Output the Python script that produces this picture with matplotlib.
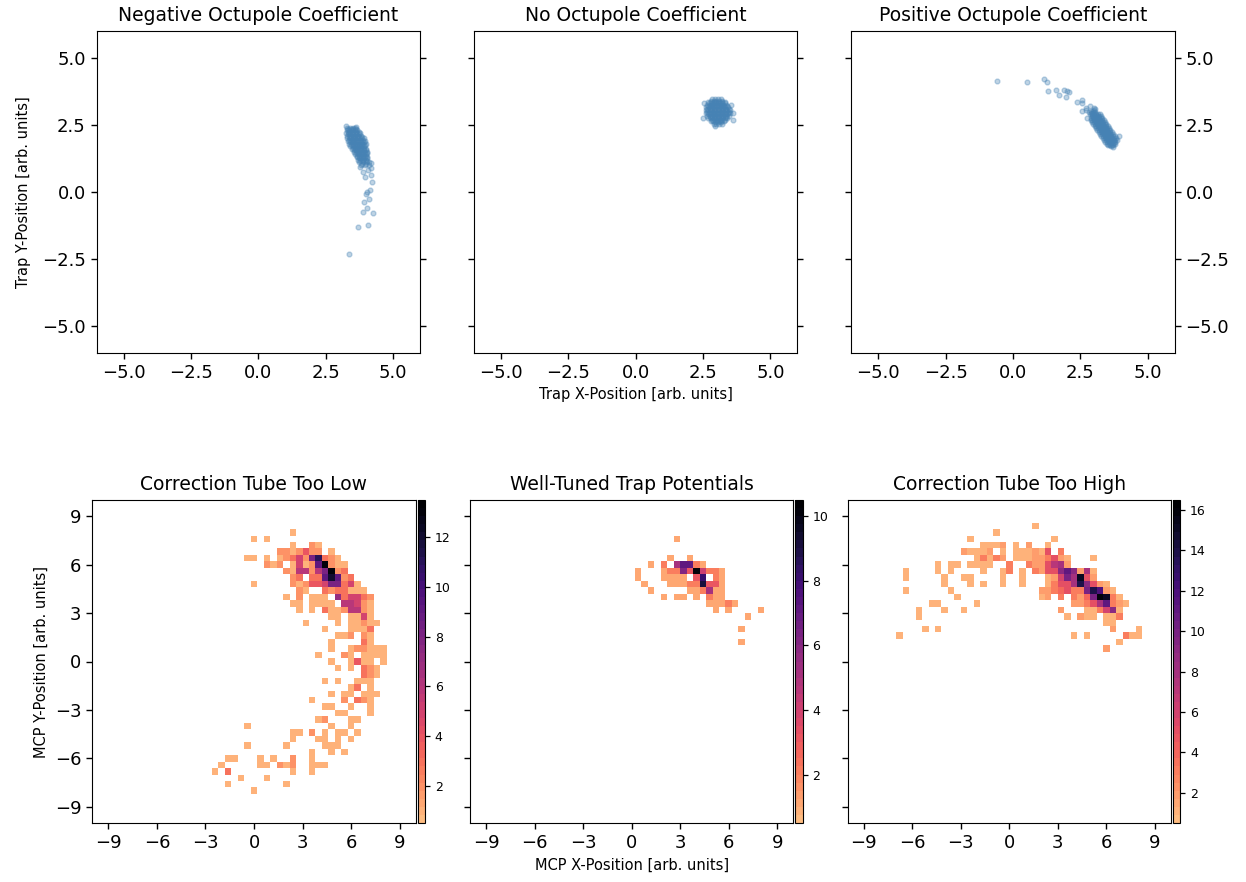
import numpy as np
import matplotlib
matplotlib.use("Agg")
import matplotlib.pyplot as plt
from matplotlib.colors import ListedColormap, Normalize

# ---- top row: trap positions (scatter) ----
neg_x = [3.30, 3.40, 3.50, 3.58,
         3.28, 3.38, 3.48, 3.58, 3.68,
         3.27, 3.37, 3.47, 3.57, 3.67, 3.78,
         3.30, 3.40, 3.50, 3.60, 3.70, 3.80,
         3.30, 3.40, 3.50, 3.60, 3.70, 3.82, 3.92,
         3.33, 3.43, 3.53, 3.63, 3.73, 3.85, 3.95,
         3.37, 3.47, 3.57, 3.67, 3.77, 3.88, 3.98,
         3.42, 3.52, 3.62, 3.72, 3.82, 3.92,
         3.48, 3.58, 3.68, 3.78, 3.88, 3.98,
         3.55, 3.65, 3.75, 3.85, 3.95, 4.05,
         3.60, 3.70, 3.80, 3.90, 4.00,
         3.65, 3.75, 3.85, 3.95, 4.05,
         3.70, 3.80, 3.90, 4.00,
         3.75, 3.88, 4.00, 4.10,
         3.80, 3.95, 4.10,
         3.33, 3.43, 3.53, 3.63,
         3.32, 3.42, 3.52, 3.62, 3.72,
         3.32, 3.42, 3.52, 3.62, 3.72,
         3.35, 3.45, 3.55, 3.65, 3.75, 3.86,
         3.36, 3.46, 3.56, 3.66, 3.78, 3.90,
         3.40, 3.50, 3.60, 3.70, 3.82, 3.93,
         3.45, 3.55, 3.65, 3.75, 3.85, 3.95,
         3.50, 3.60, 3.70, 3.80, 3.92,
         3.55, 3.62, 3.72, 3.82, 3.92, 4.00,
         3.62, 3.72, 3.82, 3.92, 4.02,
         3.68, 3.78, 3.88, 3.98,
         3.72, 3.82, 3.92, 4.02,
         3.78, 3.90, 4.02,
         3.85, 4.00,
         3.37, 3.71, 4.06, 3.88, 4.27, 4.05, 3.92, 4.12, 4.02, 4.15,
         3.99, 4.21, 3.94, 4.18, 4.08, 4.18, 4.17, 3.88, 3.78, 3.25, 3.62]
neg_y = [2.40, 2.40, 2.40, 2.40,
         2.30, 2.30, 2.30, 2.30, 2.30,
         2.20, 2.20, 2.20, 2.20, 2.20, 2.20,
         2.10, 2.10, 2.10, 2.10, 2.10, 2.10,
         2.00, 2.00, 2.00, 2.00, 2.00, 2.00, 2.00,
         1.90, 1.90, 1.90, 1.90, 1.90, 1.90, 1.90,
         1.80, 1.80, 1.80, 1.80, 1.80, 1.80, 1.80,
         1.70, 1.70, 1.70, 1.70, 1.70, 1.70,
         1.60, 1.60, 1.60, 1.60, 1.60, 1.60,
         1.50, 1.50, 1.50, 1.50, 1.50, 1.50,
         1.40, 1.40, 1.40, 1.40, 1.40,
         1.30, 1.30, 1.30, 1.30, 1.30,
         1.20, 1.20, 1.20, 1.20,
         1.10, 1.10, 1.10, 1.10,
         1.00, 1.00, 1.00,
         2.35, 2.35, 2.35, 2.35,
         2.25, 2.25, 2.25, 2.25, 2.25,
         2.15, 2.15, 2.15, 2.15, 2.15,
         2.05, 2.05, 2.05, 2.05, 2.05, 2.05,
         1.95, 1.95, 1.95, 1.95, 1.95, 1.95,
         1.85, 1.85, 1.85, 1.85, 1.85, 1.85,
         1.75, 1.75, 1.75, 1.75, 1.75, 1.75,
         1.65, 1.65, 1.65, 1.65, 1.65,
         1.55, 1.55, 1.55, 1.55, 1.55, 1.55,
         1.45, 1.45, 1.45, 1.45, 1.45,
         1.35, 1.35, 1.35, 1.35,
         1.25, 1.25, 1.25, 1.25,
         1.15, 1.15, 1.15,
         1.05, 1.05,
         -2.32, -1.29, -1.23, -0.73, -0.77, -0.61, -0.36, -0.25, 0.01, 0.07,
         -0.09, 0.38, 0.57, 0.63, 0.82, 0.88, 1.07, 0.76, 0.94, 2.45, 2.42]

zero_x = [2.85, 2.95, 3.05, 3.15,
          2.70, 2.80, 2.90, 3.00, 3.10, 3.20, 3.30,
          2.65, 2.75, 2.85, 2.95, 3.05, 3.15, 3.25, 3.35,
          2.62, 2.72, 2.82, 2.92, 3.02, 3.12, 3.22, 3.32, 3.42,
          2.60, 2.70, 2.80, 2.90, 3.00, 3.10, 3.20, 3.30, 3.40, 3.50,
          2.62, 2.72, 2.82, 2.92, 3.02, 3.12, 3.22, 3.32, 3.42, 3.52,
          2.65, 2.75, 2.85, 2.95, 3.05, 3.15, 3.25, 3.35, 3.45,
          2.70, 2.80, 2.90, 3.00, 3.10, 3.20, 3.30, 3.40,
          2.78, 2.88, 2.98, 3.08, 3.18, 3.28,
          2.90, 3.00, 3.10, 3.20,
          2.80, 2.90, 3.00, 3.10, 3.20,
          2.72, 2.82, 2.92, 3.02, 3.12, 3.22, 3.32,
          2.68, 2.78, 2.88, 2.98, 3.08, 3.18, 3.28, 3.38,
          2.65, 2.75, 2.85, 2.95, 3.05, 3.15, 3.25, 3.35, 3.45,
          2.66, 2.76, 2.86, 2.96, 3.06, 3.16, 3.26, 3.36, 3.46,
          2.70, 2.80, 2.90, 3.00, 3.10, 3.20, 3.30, 3.40,
          2.75, 2.85, 2.95, 3.05, 3.15, 3.25, 3.35,
          2.82, 2.92, 3.02, 3.12, 3.22, 3.32,
          2.95, 3.05, 3.15,
          2.51, 2.95, 3.63, 3.63, 3.55, 2.55]
zero_y = [3.45, 3.45, 3.45, 3.45,
          3.35, 3.35, 3.35, 3.35, 3.35, 3.35, 3.35,
          3.25, 3.25, 3.25, 3.25, 3.25, 3.25, 3.25, 3.25,
          3.15, 3.15, 3.15, 3.15, 3.15, 3.15, 3.15, 3.15, 3.15,
          3.05, 3.05, 3.05, 3.05, 3.05, 3.05, 3.05, 3.05, 3.05, 3.05,
          2.95, 2.95, 2.95, 2.95, 2.95, 2.95, 2.95, 2.95, 2.95, 2.95,
          2.85, 2.85, 2.85, 2.85, 2.85, 2.85, 2.85, 2.85, 2.85,
          2.75, 2.75, 2.75, 2.75, 2.75, 2.75, 2.75, 2.75,
          2.65, 2.65, 2.65, 2.65, 2.65, 2.65,
          2.55, 2.55, 2.55, 2.55,
          3.40, 3.40, 3.40, 3.40, 3.40,
          3.30, 3.30, 3.30, 3.30, 3.30, 3.30, 3.30,
          3.20, 3.20, 3.20, 3.20, 3.20, 3.20, 3.20, 3.20,
          3.10, 3.10, 3.10, 3.10, 3.10, 3.10, 3.10, 3.10, 3.10,
          3.00, 3.00, 3.00, 3.00, 3.00, 3.00, 3.00, 3.00, 3.00,
          2.90, 2.90, 2.90, 2.90, 2.90, 2.90, 2.90, 2.90,
          2.80, 2.80, 2.80, 2.80, 2.80, 2.80, 2.80,
          2.70, 2.70, 2.70, 2.70, 2.70, 2.70,
          2.60, 2.60, 2.60,
          2.77, 2.47, 2.93, 2.70, 3.25, 3.30]

pos_x = [2.90, 2.99, 2.82, 2.95, 3.04, 2.87, 3.00, 3.09, 2.92,
         3.05, 3.14, 2.97, 3.22, 2.88, 3.10, 3.19, 3.02, 3.27, 2.93,
         3.15, 3.24, 3.07, 3.32, 2.98, 3.20, 3.29, 3.12, 3.37, 3.03,
         3.25, 3.34, 3.17, 3.42, 3.08, 3.30, 3.39, 3.22, 3.47, 3.13,
         3.35, 3.44, 3.27, 3.52, 3.18, 3.40, 3.49, 3.32, 3.57, 3.23,
         3.45, 3.54, 3.37, 3.62, 3.28, 3.50, 3.59, 3.42, 3.67, 3.33,
         3.55, 3.64, 3.47, 3.72, 3.38, 3.60, 3.69, 3.52, 3.77, 3.43,
         3.65, 3.74, 3.57, 3.82, 3.48, 3.70, 3.79, 3.62, 3.87, 3.53,
         3.72, 3.80, 3.64, 3.92, 3.70,
         2.97, 2.88, 3.02, 2.93,
         3.07, 2.98, 3.15, 2.90, 3.12, 3.03, 3.20, 2.95,
         3.17, 3.08, 3.25, 3.00, 3.22, 3.13, 3.30, 3.05,
         3.27, 3.18, 3.35, 3.10, 3.32, 3.23, 3.40, 3.15,
         3.37, 3.28, 3.45, 3.20, 3.42, 3.33, 3.50, 3.25,
         3.47, 3.38, 3.55, 3.30, 3.52, 3.43, 3.60, 3.35,
         3.57, 3.48, 3.65, 3.40, 3.62, 3.53, 3.70, 3.45,
         3.67, 3.58, 3.75, 3.50, 3.72, 3.63, 3.80, 3.55,
         3.75, 3.67,
         -0.60, 0.51, 1.17, 1.25, 1.31, 1.58, 1.72, 1.89, 2.02, 2.09, 1.96,
         2.37, 2.57, 2.55, 2.55, 2.71, 2.86, 2.99, 2.76, 2.70, 3.05]
pos_y = [3.02, 3.07, 2.97, 2.95, 3.00, 2.90, 2.87, 2.92, 2.82,
         2.80, 2.85, 2.75, 2.90, 2.70, 2.72, 2.77, 2.67, 2.82, 2.62,
         2.65, 2.70, 2.60, 2.75, 2.55, 2.57, 2.62, 2.52, 2.67, 2.47,
         2.50, 2.55, 2.45, 2.60, 2.40, 2.42, 2.47, 2.37, 2.52, 2.32,
         2.35, 2.40, 2.30, 2.45, 2.25, 2.27, 2.32, 2.22, 2.37, 2.17,
         2.20, 2.25, 2.15, 2.30, 2.10, 2.12, 2.17, 2.07, 2.22, 2.02,
         2.05, 2.10, 2.00, 2.15, 1.95, 1.97, 2.02, 1.92, 2.07, 1.87,
         1.90, 1.95, 1.85, 2.00, 1.80, 1.82, 1.87, 1.77, 1.92, 1.74,
         1.75, 1.80, 1.70, 2.10, 1.68,
         3.01, 2.96, 2.94, 2.88,
         2.86, 2.81, 2.91, 2.76, 2.79, 2.73, 2.84, 2.68,
         2.71, 2.66, 2.76, 2.61, 2.64, 2.58, 2.69, 2.53,
         2.56, 2.51, 2.61, 2.46, 2.49, 2.43, 2.54, 2.38,
         2.41, 2.36, 2.46, 2.31, 2.34, 2.28, 2.39, 2.23,
         2.26, 2.21, 2.31, 2.16, 2.19, 2.13, 2.24, 2.08,
         2.11, 2.06, 2.16, 2.01, 2.04, 1.98, 2.09, 1.93,
         1.96, 1.91, 2.01, 1.86, 1.89, 1.83, 1.94, 1.78,
         1.81, 1.76,
         4.14, 4.09, 4.21, 4.10, 3.76, 3.80, 3.63, 3.80, 3.78, 3.74, 3.55,
         3.37, 3.43, 3.31, 3.03, 3.12, 3.20, 3.12, 2.75, 3.05, 3.10]

top_titles = ["Negative Octupole Coefficient", "No Octupole Coefficient",
              "Positive Octupole Coefficient"]

# ---- bottom row: MCP hit maps, counts per 0.4 x 0.4 bin ----
# each string is one row of bins (top row first); '.' = empty, digits/letters = count (base 36)
low_rows = [
    "..............1...............",
    "........1.1...................",
    "..............1..21...........",
    "............2212422.1.........",
    ".......11.1.123528b321........",
    "..........212.15129d211.......",
    ".............2166268d23.......",
    "..............23.339c923......",
    "........1.....21244588351.....",
    "...............21..3233111....",
    ".............1.2.111.735532...",
    "..............11.1111.66521...",
    "...............1.1.31126621...",
    "....................11.1151...",
    "................1....1.11211..",
    "...................1...1113...",
    ".....................112.21...",
    "....................1....31...",
    "....................1..122111.",
    "..................1...21.1111.",
    "....................1..1411.1.",
    ".....................1.1.321..",
    ".........................321..",
    "...................1.1..111...",
    ".......................13.1...",
    "....................1.11.111..",
    ".................1....2.321...",
    "...................11..1..1...",
    ".....................11...1...",
    "..................12...11.....",
    ".......1............1..1......",
    "..............11.2.1.11.1.....",
    "..............1...11.1.1......",
    ".......1.....1.....111........",
    ".................1..1.1.......",
    "....11...1.1..2..1............",
    "...1.....11.212..111..........",
    "..1.3.........1..1............",
    "......1...1...................",
    "....1........1................",
    "........1.....................",
]
low_top, low_left = 20, -8

tuned_rows = [
    ".......1.............",
    ".....................",
    ".....................",
    "......1..1...........",
    "...1.2.57721.........",
    ".1...12263a4221......",
    ".1...1111.38.21......",
    "..1...111229331......",
    "...1.....112511......",
    ".....1.11.1.211......",
    "............11121....",
    ".............1.1....1",
    "..................1..",
    ".....................",
    ".................1...",
    ".....................",
    ".................1...",
]
tuned_top, tuned_left = 19, 0

high_rows = [
    ".....................1.................",
    "...............1.......................",
    "...........1............1..............",
    ".............1112.1.2..1...............",
    "..........21112.1.111215.3.............",
    "............13132.111223521...1........",
    "......1.11.1111..3..3225782............",
    ".1....1.1....1..13.1.32559b9281........",
    ".1.....1..11....1..1...126a8f52........",
    ".......1...1.1..1..1...13558e9521......",
    ".1......1.............2234533aec21.....",
    ".........1............12.3.324agf31....",
    ".....11.....1..............22358b321...",
    "...1...1..1..............2...113691....",
    "...1......................1.211.113....",
    "................................11.....",
    "....1.1..........................2...1.",
    "1..........................1.1.....311.",
    "..................................1....",
    "................................2......",
]
high_top, high_left = 21, -17

bottom_titles = ["Correction Tube Too Low", "Well-Tuned Trap Potentials",
                 "Correction Tube Too High"]
bin_width = 0.4


def grid_to_hits(rows, m_top, k_left):
    xs, ys, ws = [], [], []
    for r, row in enumerate(rows):
        for j, ch in enumerate(row):
            if ch != ".":
                xs.append((k_left + j) * bin_width)
                ys.append((m_top - r) * bin_width)
                ws.append(int(ch, 36))
    return np.array(xs), np.array(ys), np.array(ws, dtype=float)


W, H = 1246, 882
fig = plt.figure(figsize=(W / 100, H / 100), dpi=100)


def px_axes(left, top, w, h):
    return fig.add_axes([left / W, 1 - (top + h) / H, w / W, h / H])


tick_kw = dict(labelsize=13, length=4.3, width=1.0)

# top row
top_data = [(neg_x, neg_y), (zero_x, zero_y), (pos_x, pos_y)]
for i, (xs, ys) in enumerate(top_data):
    ax = px_axes([96.7, 474.0, 851.3][i], 31, 323.3, 322)
    ax.scatter(xs, ys, s=12, color="steelblue", alpha=0.35)
    ax.set_xlim(-6, 6)
    ax.set_ylim(-6, 6)
    ax.set_xticks([-5, -2.5, 0, 2.5, 5])
    ax.set_yticks([-5, -2.5, 0, 2.5, 5])
    ax.tick_params(**tick_kw)
    ax.tick_params(axis="y", left=True, right=True,
                   labelleft=(i == 0), labelright=(i == 2))
    ax.set_title(top_titles[i], fontsize=13.5, pad=7)
    if i == 0:
        ax.set_ylabel("Trap Y-Position [arb. units]", fontsize=10.5, labelpad=8)
    if i == 1:
        ax.set_xlabel("Trap X-Position [arb. units]", fontsize=10.5, labelpad=4)

# bottom row
edges = np.arange(-10.2, 10.21, bin_width)
base = plt.get_cmap("magma_r")(np.linspace(0.14, 1.0, 40))
cmap = ListedColormap(base)
bottom_data = [(low_rows, low_top, low_left),
               (tuned_rows, tuned_top, tuned_left),
               (high_rows, high_top, high_left)]
for i, (rows, mt, kl) in enumerate(bottom_data):
    left = [92.3, 470.0, 847.7][i]
    ax = px_axes(left, 500, 323.4, 323)
    x, y, w = grid_to_hits(rows, mt, kl)
    vmax = w.max() + 0.5
    h = ax.hist2d(x, y, bins=[edges, edges], weights=w, cmap=cmap,
                  norm=Normalize(vmin=0.5, vmax=vmax), cmin=0.5)
    ax.set_xlim(-10, 10)
    ax.set_ylim(-10, 10)
    ax.set_xticks(np.arange(-9, 10, 3))
    ax.set_yticks(np.arange(-9, 10, 3))
    ax.tick_params(**tick_kw)
    ax.tick_params(axis="y", labelleft=(i == 0))
    ax.set_title(bottom_titles[i], fontsize=13.5, pad=7)
    if i == 0:
        ax.set_ylabel("MCP Y-Position [arb. units]", fontsize=10.5, labelpad=4)
    if i == 1:
        ax.set_xlabel("MCP X-Position [arb. units]", fontsize=10.5, labelpad=4)
    cax = px_axes(left + 325.4, 500, 7.3, 323)
    cb = fig.colorbar(h[3], cax=cax)
    cb.set_ticks(np.arange(2, w.max() + 0.6, 2))
    cb.ax.tick_params(labelsize=9, length=3.5, width=0.9)

fig.savefig("out.png", dpi=100)
